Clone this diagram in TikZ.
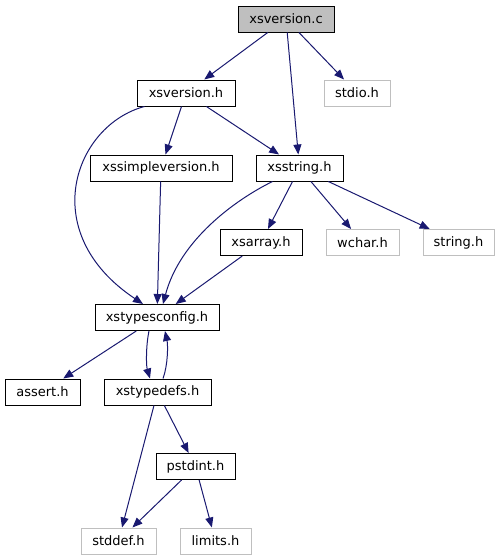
\documentclass[tikz,border=0pt]{standalone}
\usepackage{fontspec}
\setmainfont{DejaVu Sans}
\usetikzlibrary{arrows.meta,calc}
\definecolor{edgeblue}{HTML}{191970}
\definecolor{grayline}{HTML}{BFBFBF}
\begin{document}
\begin{tikzpicture}[x=1pt,y=-1pt,
  box/.style={draw=black,line width=1pt,fill=white,inner sep=0pt,minimum height=26pt,font=\fontsize{13}{15}\selectfont},
  sysbox/.style={box,draw=grayline},
  mainbox/.style={box,fill=grayline},
  edge/.style={draw=edgeblue,line width=1pt,-{Triangle[length=10pt,width=8pt]},color=edgeblue}]
\useasboundingbox (0,0) rectangle (499,560);
\node[mainbox,minimum width=96pt] (xsvc) at (286,19) {xsversion.c};
\node[box,minimum width=98pt] (xsvh) at (186,93) {xsversion.h};
\node[sysbox,minimum width=66pt] (stdio) at (357,93) {stdio.h};
\node[box,minimum width=142pt] (xssv) at (161,168) {xssimpleversion.h};
\node[box,minimum width=87pt] (xsstr) at (299.5,168) {xsstring.h};
\node[box,minimum width=82pt] (xsarr) at (261,242.5) {xsarray.h};
\node[sysbox,minimum width=73pt] (wchar) at (362.5,242.5) {wchar.h};
\node[sysbox,minimum width=71pt] (string) at (458.5,242.5) {string.h};
\node[box,minimum width=124pt] (xtc) at (157,317.5) {xstypesconfig.h};
\node[box,minimum width=75pt] (assert) at (42.5,392) {assert.h};
\node[box,minimum width=107pt] (xtd) at (157.5,392) {xstypedefs.h};
\node[box,minimum width=79pt] (pstd) at (195.5,466.5) {pstdint.h};
\node[sysbox,minimum width=75pt] (stddef) at (118.5,541) {stddef.h};
\node[sysbox,minimum width=71pt] (limits) at (215.5,541) {limits.h};

\draw[edge] (xsvc) -- (xsvh);
\draw[edge] (xsvc) -- (xsstr);
\draw[edge] (xsvc) -- (stdio);
\draw[edge] (xsvh) -- (xsstr);
\draw[edge] (xsvh) -- (xssv);
\draw[edge] ($(xsvh.south west)+(8,0)$) .. controls (75,125) and (35,232) .. ($(xtc.north)+(-14,0)$);
\draw[edge] (xssv) -- (xtc);
\draw[edge] ($(xsstr.south west)+(17,0)$) .. controls (235,200) and (180,240) .. ($(xtc.north)+(6,0)$);
\draw[edge] (xsstr) -- (xsarr);
\draw[edge] (xsstr) -- (wchar);
\draw[edge] (xsstr) -- (string);
\draw[edge] (xsarr) -- (xtc);
\draw[edge] (xtc) -- (assert);
\draw[edge] ($(xtc.south)+(-8,0)$) .. controls (146,345) and (146,365) .. ($(xtd.north)+(-7.5,0)$);
\draw[edge] ($(xtd.north)+(5.5,0)$) .. controls (168,365) and (168,345) .. ($(xtc.south)+(8,0)$);
\draw[edge] (xtd) -- (stddef);
\draw[edge] (xtd) -- (pstd);
\draw[edge] (pstd) -- (stddef);
\draw[edge] (pstd) -- (limits);
\end{tikzpicture}
\end{document}
